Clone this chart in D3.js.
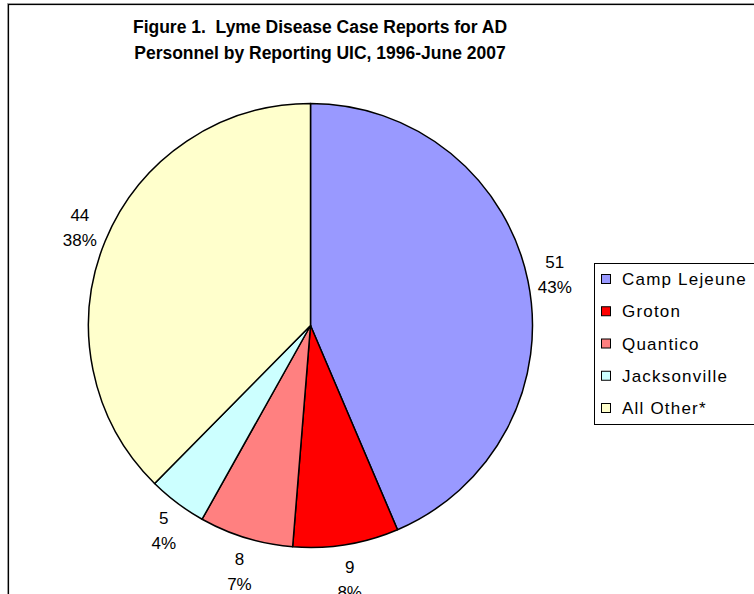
<!DOCTYPE html>
<html>
<head>
<meta charset="utf-8">
<script src="https://cdn.jsdelivr.net/npm/d3@7"></script>
<style>
  html, body { margin: 0; padding: 0; background: #fff; }
  svg { display: block; }
  text { font-family: "Liberation Sans", Arial, sans-serif; fill: #000; white-space: pre; }
</style>
</head>
<body>
<svg id="chart" width="754" height="594"></svg>
<script>
const titleLines = ["Figure 1.  Lyme Disease Case Reports for AD", "Personnel by Reporting UIC, 1996-June 2007"];
const categories = ["Camp Lejeune", "Groton", "Quantico", "Jacksonville", "All Other*"];
const values = [51, 9, 8, 5, 44];
const percentLabels = ["43%", "8%", "7%", "4%", "38%"];
const colors = ["#9999FF", "#FF0000", "#FF8080", "#CCFFFF", "#FFFFCC"];

const svg = d3.select("#chart");

// outer frame (extends past right/bottom edges)
svg.append("rect").attr("x", 7.5).attr("y", 3.5).attr("width", 900).attr("height", 900)
  .attr("fill", "none").attr("stroke", "#aaa").attr("stroke-width", 1);
svg.append("rect").attr("x", 8.5).attr("y", 4.5).attr("width", 900).attr("height", 900)
  .attr("fill", "#fff").attr("stroke", "#000").attr("stroke-width", 1.2);

// title
const title = svg.append("text").attr("x", 320).attr("y", 33)
  .attr("text-anchor", "middle").style("font-weight", "bold").style("font-size", "17.5px");
titleLines.forEach((t, i) => {
  title.append("tspan").attr("x", 320).attr("dy", i === 0 ? 0 : 26).text(t);
});

// pie
const cx = 310.5, cy = 325.5, r = 222;
const data = categories.map((c, i) => ({ name: c, value: values[i], pct: percentLabels[i], color: colors[i] }));
const pie = d3.pie().sort(null).value(d => d.value);
const arc = d3.arc().innerRadius(0).outerRadius(r);
const arcs = pie(data);
const g = svg.append("g").attr("transform", `translate(${cx},${cy})`);
g.selectAll("path").data(arcs).join("path")
  .attr("d", arc)
  .attr("fill", d => d.data.color)
  .attr("stroke", "#000").attr("stroke-width", 1.5).attr("stroke-linejoin", "round");

// labels (outside end)
const lblR = r + 12, fs = 17, lineGap = 25;
arcs.forEach(a => {
  const th = (a.startAngle + a.endAngle) / 2;
  const sx = Math.sin(th), sy = -Math.cos(th);
  const ax = sx * lblR, ay = sy * lblR;
  const w = Math.max(String(a.data.value).length, a.data.pct.length) * 0.6 * fs;
  const h = 46;
  const lx = ax + sx * w / 2, ly = ay + sy * h / 2;
  const t = g.append("text").attr("text-anchor", "middle").style("font-size", fs + "px");
  t.append("tspan").attr("x", lx).attr("y", ly - lineGap / 2 + 6).text(a.data.value);
  t.append("tspan").attr("x", lx).attr("y", ly + lineGap / 2 + 6).text(a.data.pct);
});

// legend
const lg = svg.append("g");
lg.append("rect").attr("x", 594.5).attr("y", 263.5).attr("width", 300).attr("height", 161)
  .attr("fill", "#fff").attr("stroke", "#000").attr("stroke-width", 1);
const rowY = d3.scalePoint().domain(categories).range([279, 408]);
categories.forEach((c, i) => {
  const y = rowY(c);
  lg.append("rect").attr("x", 601.5).attr("y", y - 4.5).attr("width", 9).attr("height", 9)
    .attr("fill", colors[i]).attr("stroke", "#000").attr("stroke-width", 1);
  lg.append("text").attr("x", 622).attr("y", y + 6).style("font-size", "17px")
    .style("letter-spacing", "1.2px").text(c);
});
</script>
</body>
</html>
